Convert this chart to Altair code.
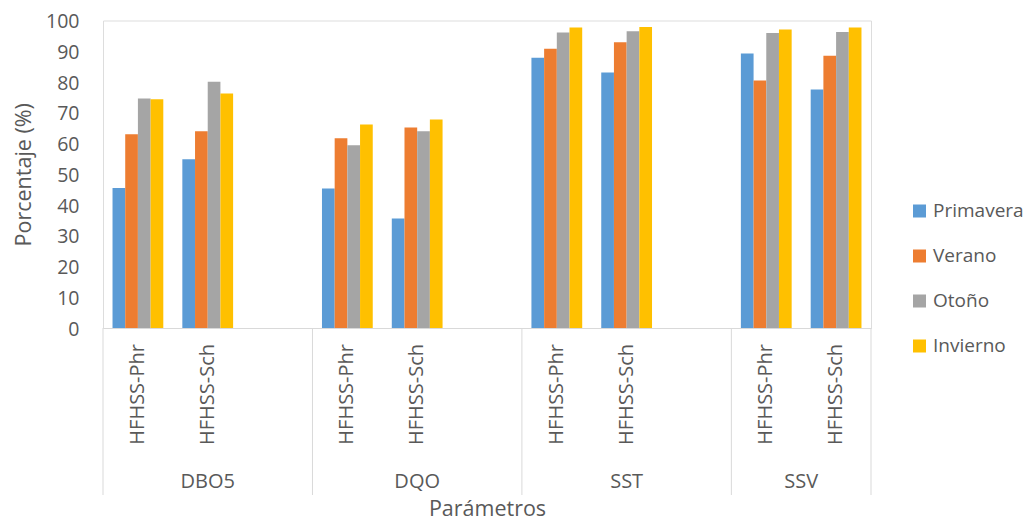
import altair as alt
import pandas as pd

parametros = ["DBO5", "DQO", "SST", "SSV"]
sistemas = ["HFHSS-Phr", "HFHSS-Sch"]
estaciones = ["Primavera", "Verano", "Otoño", "Invierno"]
colores = ["#5B9BD5", "#ED7D31", "#A5A5A5", "#FFC000"]

# order: DBO5-Phr, DBO5-Sch, DQO-Phr, DQO-Sch, SST-Phr, SST-Sch, SSV-Phr, SSV-Sch
primavera = [45.5, 54.9, 45.4, 35.6, 87.9, 83.1, 89.3, 77.6]
verano = [63.0, 64.0, 61.7, 65.2, 90.8, 92.9, 80.5, 88.5]
otono = [74.6, 80.1, 59.4, 64.0, 96.1, 96.5, 95.9, 96.3]
invierno = [74.4, 76.3, 66.2, 67.8, 97.7, 97.9, 97.1, 97.7]
y_ticks = [0, 10, 20, 30, 40, 50, 60, 70, 80, 90, 100]

series = [primavera, verano, otono, invierno]

# slot domain: each parameter has its two systems plus an empty slot (not after the last)
slots = []
for i, p in enumerate(parametros):
    for s in sistemas:
        slots.append(f"{p} | {s}")
    if i < len(parametros) - 1:
        slots.append(f"{p} | ")

rows = []
k = 0
for p in parametros:
    for s in sistemas:
        for e, vals in zip(estaciones, series):
            rows.append({"slot": f"{p} | {s}", "parametro": p, "sistema": s,
                         "estacion": e, "valor": vals[k]})
        k += 1
df = pd.DataFrame(rows)

labels_df = pd.DataFrame([{"slot": f"{p} | {s}", "sistema": s}
                          for p in parametros for s in sistemas])
group_start = pd.DataFrame([{"slot": f"{p} | {sistemas[0]}"} for p in parametros])
group_end = pd.DataFrame([{"slot": f"{parametros[-1]} | {sistemas[-1]}"}])
param_mid3 = pd.DataFrame([{"slot": f"{p} | {sistemas[1]}", "parametro": p}
                           for p in parametros[:-1]])
param_mid2 = pd.DataFrame([{"slot": f"{parametros[-1]} | {sistemas[1]}",
                            "parametro": parametros[-1]}])

W = 768
H = 307.5
FONT = "Open Sans"
GREY = "#595959"
LINE = "#D9D9D9"

xscale = alt.Scale(domain=slots, paddingInner=0, paddingOuter=0)
xaxis = alt.Axis(labels=False, ticks=False, domain=True, domainColor=LINE,
                 domainWidth=1, grid=False, title="Parámetros",
                 titleFontSize=21.5, titleFontWeight="normal", titleColor=GREY,
                 titleFont=FONT, titleX=W / 2, titleY=187.5,
                 titleBaseline="alphabetic", titleAlign="center")

bars = alt.Chart(df).mark_bar().encode(
    x=alt.X("slot:N", scale=xscale, axis=xaxis),
    xOffset=alt.XOffset("estacion:N",
                        scale=alt.Scale(domain=estaciones, paddingInner=0,
                                        paddingOuter=0.75)),
    y=alt.Y("valor:Q", scale=alt.Scale(domain=[0, 100], nice=False),
            axis=alt.Axis(values=y_ticks, ticks=False, tickSize=0, domain=False,
                          grid=False, labelPadding=24, labelFontSize=19.5,
                          labelOffset=1,
                          labelColor=GREY, labelFont=FONT,
                          title="Porcentaje (%)", titleFontSize=21.5,
                          titleFontWeight="normal", titleColor=GREY,
                          titleFont=FONT, titleAngle=270, titleX=-79,
                          titleY=H / 2, titleAlign="center",
                          titleBaseline="middle")),
    color=alt.Color("estacion:N",
                    scale=alt.Scale(domain=estaciones, range=colores),
                    legend=alt.Legend(orient="none", legendX=807, legendY=181,
                                      title=None, symbolType="square",
                                      symbolSize=169, symbolStrokeWidth=0,
                                      labelFontSize=19, labelColor=GREY,
                                      labelFont=FONT, labelOffset=4,
                                      rowPadding=25, padding=0)),
)

sep_start = alt.Chart(group_start).mark_rule(color=LINE, strokeWidth=1).encode(
    x=alt.X("slot:N", scale=xscale, axis=xaxis, bandPosition=0),
    y=alt.value(H), y2=alt.value(H + 167),
)
sep_end = alt.Chart(group_end).mark_rule(color=LINE, strokeWidth=1).encode(
    x=alt.X("slot:N", scale=xscale, axis=xaxis, bandPosition=1),
    y=alt.value(H), y2=alt.value(H + 167),
)

sub_labels = alt.Chart(labels_df).mark_text(
    angle=270, align="right", baseline="middle", fontSize=20, color=GREY,
    font=FONT).encode(
    x=alt.X("slot:N", scale=xscale, axis=xaxis),
    y=alt.value(H + 16),
    text="sistema:N",
)

param3 = alt.Chart(param_mid3).mark_text(
    align="center", baseline="middle", fontSize=20, color=GREY, font=FONT).encode(
    x=alt.X("slot:N", scale=xscale, axis=xaxis),
    y=alt.value(H + 154),
    text="parametro:N",
)
param2 = alt.Chart(param_mid2).mark_text(
    align="center", baseline="middle", fontSize=20, color=GREY, font=FONT).encode(
    x=alt.X("slot:N", scale=xscale, axis=xaxis, bandPosition=0),
    y=alt.value(H + 154),
    text="parametro:N",
)

chart = alt.layer(bars, sep_start, sep_end, sub_labels, param3, param2).properties(
    width=W, height=H,
    autosize=alt.AutoSizeParams(type="none"),
    padding={"left": 95, "top": 12.5, "right": 156, "bottom": 193},
    background="white",
).configure_view(stroke=None).configure(font=FONT)

chart.save("out.html", embed_options={"renderer": "svg", "actions": False})
